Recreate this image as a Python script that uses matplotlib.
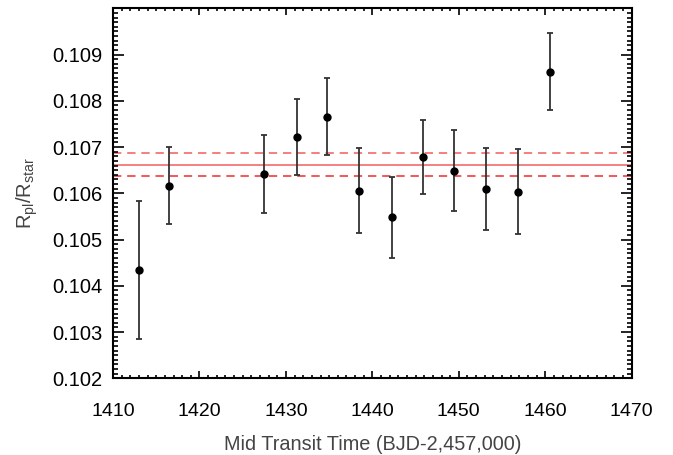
import numpy as np
import matplotlib
matplotlib.use("Agg")
import matplotlib.pyplot as plt
from matplotlib.ticker import MultipleLocator

plt.rcParams['font.family'] = ['Liberation Sans', 'DejaVu Sans']

# transit data
t_mid = [1413.0, 1416.5, 1427.5, 1431.3, 1434.8, 1438.5, 1442.3, 1445.8, 1449.5, 1453.2, 1456.8, 1460.5]
rp_rs = [0.10434, 0.10616, 0.10642, 0.10721, 0.10766, 0.10606, 0.10548, 0.10678, 0.10649, 0.10609, 0.10603, 0.10863]
rp_err = [0.00150, 0.00083, 0.00084, 0.00082, 0.00083, 0.00092, 0.00088, 0.00080, 0.00088, 0.00089, 0.00092, 0.00083]

# mean value and 1 sigma
mean_rp = 0.10662
mean_lo = 0.10637
mean_hi = 0.10687

fig = plt.figure(figsize=(6.73, 4.55), dpi=100)
ax = fig.add_axes([0.168, 0.1686, 0.7706, 0.8132])

ax.axhline(mean_rp, color='#f26b6b', lw=1.2, zorder=1)
ax.axhline(mean_lo, color='#f03c3c', lw=1.2, ls=(0, (5, 3.5)), zorder=1)
ax.axhline(mean_hi, color='#f46a6a', lw=1.2, ls=(0, (5, 3.5)), zorder=1)

ax.errorbar(t_mid, rp_rs, yerr=rp_err, fmt='o', color='black', ms=5,
            ecolor='#333333', elinewidth=1.3, capsize=2.3, capthick=1.3, zorder=3)

ax.set_xlim(1410, 1470)
ax.set_ylim(0.102, 0.110)
ax.xaxis.set_major_locator(MultipleLocator(10))
ax.xaxis.set_minor_locator(MultipleLocator(1))
ax.yaxis.set_minor_locator(MultipleLocator(0.0001))
ax.set_yticks(np.arange(0.102, 0.1095, 0.001))
ax.yaxis.set_major_formatter(plt.FuncFormatter(lambda v, p: '%.3f' % v))

ax.tick_params(which='both', direction='in', top=True, right=True, width=1.2, colors='black')
ax.tick_params(axis='x', which='major', length=5, pad=17.5, labelsize=14)
ax.tick_params(axis='x', which='minor', length=2.5)
ax.tick_params(axis='y', which='major', length=8, pad=7.5, labelsize=14.5)
ax.tick_params(axis='y', which='minor', length=3.8)
for s in ax.spines.values():
    s.set_linewidth(1.5)

ax.set_xlabel('Mid Transit Time (BJD-2,457,000)', fontsize=14.3, color='#444444', labelpad=11)
ax.set_ylabel(r'R$_{\mathregular{pl}}$/R$_{\mathregular{star}}$', fontsize=14.5, color='#444444', labelpad=9)

fig.savefig('out.png', dpi=100)
